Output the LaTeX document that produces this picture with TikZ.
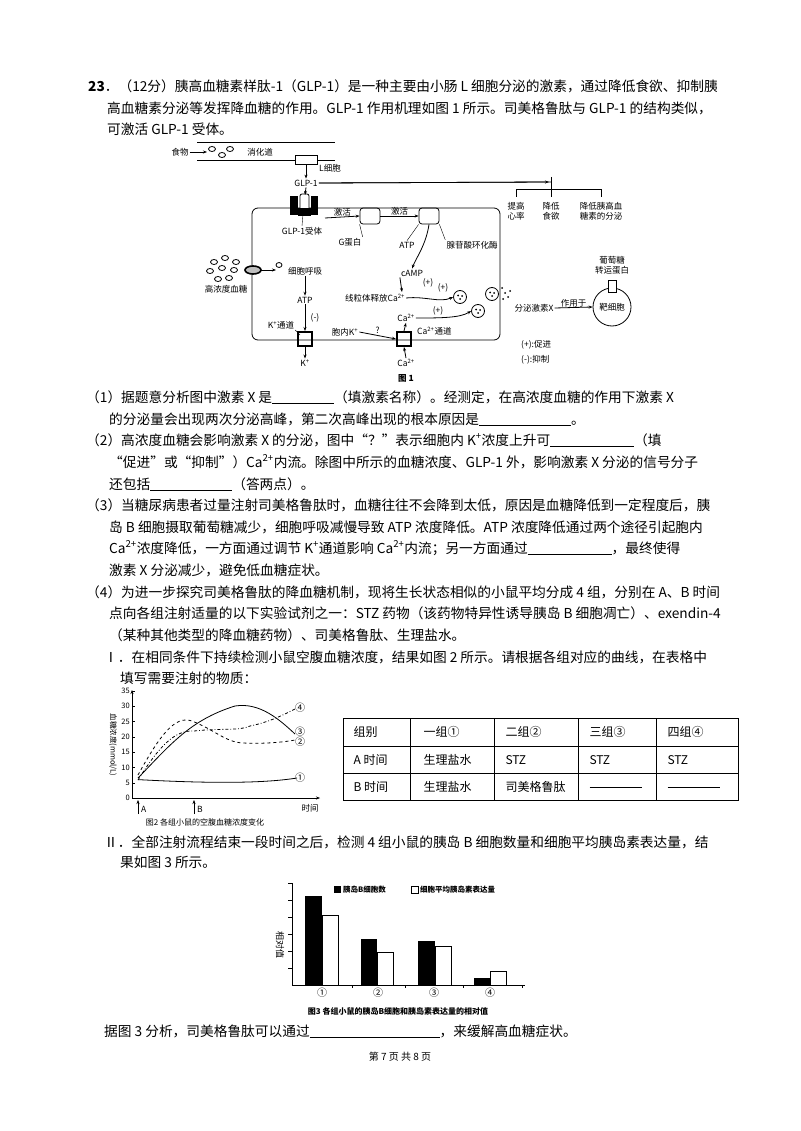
\documentclass[tikz,border=0pt]{standalone}
\usepackage{fontspec}
\setmainfont{Noto Sans CJK SC}
\usetikzlibrary{arrows.meta,shapes.geometric,calc}
\newcommand{\sq}[1]{\textsuperscript{#1}}
\begin{document}
\begin{tikzpicture}[x=1pt,y=-1pt,
  tl/.style={anchor=base west,inner sep=0,font=\fontsize{13.7}{14}\selectfont},
  fs/.style={font=\fontsize{8.5}{10}\selectfont,inner sep=1pt},
  ar/.style={-{Stealth[length=4pt,width=3pt]},thick},
  ln/.style={thick}]
\useasboundingbox (0,0) rectangle (800,1131);
\fill[white] (0,0) rectangle (800,1131);
% ---- text
\node[tl] (t1) at (88,92) {\textbf{23}．（12分）胰高血糖素样肽-1（GLP-1）是一种主要由小肠 L 细胞分泌的激素，通过降低食欲、抑制胰};
\node[tl] (t2) at (107,114) {高血糖素分泌等发挥降血糖的作用。GLP-1 作用机理如图 1 所示。司美格鲁肽与 GLP-1 的结构类似，};
\node[tl] (t3) at (107,135) {可激活 GLP-1 受体。};
\node[tl] (q1) at (86,402) {（1）据题意分析图中激素 X 是\underline{\hspace{62pt}}（填激素名称）。经测定，在高浓度血糖的作用下激素 X};
\node[tl] (q1b) at (109,424) {的分泌量会出现两次分泌高峰，第二次高峰出现的根本原因是\underline{\hspace{92pt}}。};
\node[tl] (q2) at (86,445) {（2）高浓度血糖会影响激素 X 的分泌，图中“？”表示细胞内 K\sq{+}浓度上升可\underline{\hspace{84pt}}（填};
\node[tl] (q2b) at (109,467) {“促进”或“抑制”）Ca\sq{2+}内流。除图中所示的血糖浓度、GLP-1 外，影响激素 X 分泌的信号分子};
\node[tl] (q2c) at (109,489) {还包括\underline{\hspace{82pt}}（答两点）。};
\node[tl] (q3) at (86,510) {（3）当糖尿病患者过量注射司美格鲁肽时，血糖往往不会降到太低，原因是血糖降低到一定程度后，胰};
\node[tl] (q3b) at (109,532) {岛 B 细胞摄取葡萄糖减少，细胞呼吸减慢导致 ATP 浓度降低。ATP 浓度降低通过两个途径引起胞内};
\node[tl] (q3c) at (109,553) {Ca\sq{2+}浓度降低，一方面通过调节 K\sq{+}通道影响 Ca\sq{2+}内流；另一方面通过\underline{\hspace{84pt}}，最终使得};
\node[tl] (q3d) at (109,575) {激素 X 分泌减少，避免低血糖症状。};
\node[tl] (q4) at (86,597) {（4）为进一步探究司美格鲁肽的降血糖机制，现将生长状态相似的小鼠平均分成 4 组，分别在 A、B 时间};
\node[tl] (q4b) at (109,618) {点向各组注射适量的以下实验试剂之一：STZ 药物（该药物特异性诱导胰岛 B 细胞凋亡）、exendin-4};
\node[tl] (q4c) at (109,640) {（某种其他类型的降血糖药物）、司美格鲁肽、生理盐水。};
\node[tl] (p1) at (104,662) {Ⅰ．在相同条件下持续检测小鼠空腹血糖浓度，结果如图 2 所示。请根据各组对应的曲线，在表格中};
\node[tl] (p1b) at (120,683) {填写需要注射的物质：};
\node[tl] (p2) at (104,847) {Ⅱ．全部注射流程结束一段时间之后，检测 4 组小鼠的胰岛 B 细胞数量和细胞平均胰岛素表达量，结};
\node[tl] (p2b) at (120,867) {果如图 3 所示。};
\node[tl] (p3) at (104,1036) {据图 3 分析，司美格鲁肽可以通过\underline{\hspace{130pt}}，来缓解高血糖症状。};
\node[font=\fontsize{10}{12}\selectfont] (pg) at (400,1057) {第 7 页\ 共 8 页};
% ---- table
\draw[thick] (343,718) rectangle (738,800);
\foreach \y in {746,773} \draw (343,\y) -- (738,\y);
\foreach \x in {410,494,578,656} \draw (\x,718) -- (\x,800);
\begin{scope}[every node/.style={anchor=west,font=\fontsize{12}{13}\selectfont}]
\node (c11) at (350,732) {组别}; \node (c12) at (420,732) {一组①}; \node (c13) at (502,732) {二组②}; \node (c14) at (586,732) {三组③}; \node (c15) at (664,732) {四组④};
\node (c21) at (350,760) {A 时间}; \node (c22) at (420,760) {生理盐水}; \node (c23) at (502,760) {STZ}; \node (c24) at (586,760) {STZ}; \node (c25) at (664,760) {STZ};
\node (c31) at (350,787) {B 时间}; \node (c32) at (420,787) {生理盐水}; \node (c33) at (502,787) {司美格鲁肽}; \node (c34) at (586,787) {\underline{\hspace{52pt}}}; \node (c35) at (664,787) {\underline{\hspace{52pt}}};
\end{scope}
% ---- fig 2
\draw[-{Stealth[length=4pt]}] (132,798) -- (132,690);
\draw[-{Stealth[length=4pt]}] (132,798) -- (320,798);
\foreach \v in {0,5,...,35} {\draw (132,{798-3.06*\v}) -- (135,{798-3.06*\v}); \node[fs,anchor=east,font=\fontsize{7.5}{8}\selectfont] at (131,{798-3.06*\v}) {\v};}
\node[fs,rotate=-90,font=\fontsize{7.5}{8}\selectfont] (yl2) at (113,745) {血糖浓度(mmol/L)};
\draw[thick] (138,779.6) .. controls (200,783) and (260,784) .. (297,778);
\draw[thick] (138,778) .. controls (170,745) and (190,720) .. (235,706) .. controls (260,702) and (280,720) .. (295,734);
\draw[thick,dashed] (138,775) .. controls (160,735) and (175,715) .. (192,721) .. controls (215,730) and (225,742) .. (243,743) .. controls (265,744) and (285,742) .. (295,740);
\draw[thick,dash dot] (138,780) .. controls (160,745) and (175,730) .. (194,731) .. controls (220,728) and (240,731) .. (250,726) .. controls (270,722) and (285,714) .. (295,709);
\node[fs,font=\fontsize{10}{10}\selectfont] (l4) at (300,708) {④};
\node[fs,font=\fontsize{10}{10}\selectfont] (l3) at (300,732) {③};
\node[fs,font=\fontsize{10}{10}\selectfont] (l2) at (300,742) {②};
\node[fs,font=\fontsize{10}{10}\selectfont] (l1) at (300,778) {①};
\coordinate (aA) at (138,800); \coordinate (aB) at (194,800);
\draw[ar,thin] ($(aA)+(0,14)$) -- (aA);
\draw[ar,thin] ($(aB)+(0,14)$) -- (aB);
\node[fs,anchor=west] at (140,809) {A};
\node[fs,anchor=west] at (196,809) {B};
\node[fs] (tm) at (310,808) {时间};
\node[fs,font=\fontsize{8}{9}\selectfont] (cap2) at (205,822) {图2 各组小鼠的空腹血糖浓度变化};
% ---- fig 3
\draw (292,883) -- (292,985) -- (525,985);
\foreach \y in {883,900,917,934,951,968} \draw (288,\y) -- (292,\y);
\foreach \x in {352,405,463,522} \draw (\x,985) -- (\x,988);
\foreach \a/\b/\c/\d in {305/896/322/915,361/939/377/952,418/941/435/946,474/978/490/971}{
 \fill[black] (\a,\b) rectangle (\c,985);
 \draw[fill=white] (\c,\d) rectangle ({\c+16},985);}
\foreach \x/\l in {322/①,378/②,434/③,490/④} \node[fs,font=\fontsize{10}{10}\selectfont] at (\x,993) {\l};
\fill (334,886) rectangle (341,893);
\node[fs,anchor=west,font=\fontsize{7.5}{8}\selectfont\bfseries] (lg1) at (342,889.5) {胰岛B细胞数};
\draw (411,886) rectangle (418,893);
\node[fs,anchor=west,font=\fontsize{7.5}{8}\selectfont\bfseries] (lg2) at (419,889.5) {细胞平均胰岛素表达量};
\node[fs,rotate=-90,font=\fontsize{9}{9}\selectfont] (yl3) at (280,945) {相对值};
\node[fs,font=\fontsize{8}{9}\selectfont\bfseries] (cap3) at (398,1011) {图3 各组小鼠的胰岛B细胞和胰岛素表达量的相对值};
% ---- fig 1
\draw[ln] (197,142) -- (335,142);
\draw[ln] (197,160) -- (295,160); \draw[ln] (318,160) -- (335,160);
\node[fs] (food) at (180,152) {食物};
\foreach \p in {(212,149),(222,155),(230,149)} \draw[thick] \p ellipse (3.5pt and 2.5pt);
\draw[ar] (food.east) -- (207,152);
\node[fs] (gut) at (260,152) {消化道};
\node[draw,thick,minimum width=22pt,minimum height=9pt,inner sep=0] (Lc) at (306,160) {};
\node[fs,anchor=west] (Lt) at (318,168) {L细胞};
\node[fs] (glp) at (306,183) {GLP-1};
\draw[ar] (Lc.south) -- (glp.north);
\coordinate (br) at (551,182);
\draw[ln] (glp.east) -- (br);
\draw[ar] (glp.east) -- (549,182);
\draw[ln] (551,177) -- (551,189);
\draw[ln] (516,197) -- (516,189) -- (601,189) -- (601,197);
\draw[ln] (551,189) -- (551,197);
\node[fs,align=center] (e1) at (516,211) {提高\\心率};
\node[fs,align=center] (e2) at (551,211) {降低\\食欲};
\node[fs,align=center] (e3) at (601,211) {降低胰高血\\糖素的分泌};
% cell
\draw[ln,rounded corners=6pt] (252,208) rectangle (500,340);
% receptor
\fill[black] (290,196) rectangle (298,215); \fill[black] (311,196) rectangle (318,215);
\draw[thick,fill=white,rounded corners=2pt] (300,194) rectangle (309,214);
\fill[black] (298,208) rectangle (311,216);
\draw[ar] (glp.south) -- (305,195);
\node[fs] (rec) at (302,231) {GLP-1受体};
\draw (rec.north) -- (303,214);
\node[draw,thick,rounded corners=3pt,minimum width=20pt,minimum height=16pt,inner sep=0] (G) at (370,216) {};
\node[draw,thick,rounded corners=3pt,minimum width=20pt,minimum height=16pt,inner sep=0] (AC) at (429,216) {};
\draw[ar] (325,218) -- node[fs,above=-1pt]{激活} (G.west);
\draw[ar] (G.east) -- node[fs,above=-1pt]{激活} (AC.west);
\node[fs] (Gt) at (350,242) {G蛋白};
\draw (Gt.north east) -- (G.south west);
\node[fs] (atp1) at (407,245) {ATP};
\node[fs] (ACt) at (472,245) {腺苷酸环化酶};
\draw (atp1.north) -- (AC.south west);
\draw (ACt.north west) -- (AC.south east);
\node[fs] (camp) at (412,273) {cAMP};
\draw[ar] (AC.south) .. controls (426,245) and (416,258) .. (camp.north);
\node[fs] (mito) at (375,298) {线粒体释放Ca\sq{2+}};
\draw[ar] (camp.south west) -- (402,292);
\node[fs] at (428,283) {(+)};
\node[draw,thick,circle,minimum size=13pt,inner sep=0] (v1) at (460,297) {};
\node[draw,thick,circle,minimum size=13pt,inner sep=0] (v2) at (478,311) {};
\node[draw,thick,circle,minimum size=13pt,inner sep=0] (v3) at (492,294) {};
\foreach \v in {v1,v2,v3} {\fill ($(\v)+(-2,-1.5)$) circle (1pt); \fill ($(\v)+(2,-1)$) circle (1pt); \fill ($(\v)+(0,2)$) circle (1pt);}
\foreach \p in {(502,288),(505,293),(508,297),(503,299),(510,291)} \fill \p circle (1pt);
\draw[ar] (mito.east) .. controls (425,296) and (440,303) .. (v1.west);
\node[fs] at (443,288) {(+)};
\node[fs] (ca1) at (406,318) {Ca\sq{2+}};
\draw[ar] (ca1.east) .. controls (440,318) and (460,318) .. (v2.west);
\node[fs] at (438,311) {(+)};
\node[fs] (hx) at (534,308) {分泌激素X};
\node[draw,thick,circle,minimum size=38pt,inner sep=0] (tc) at (612,307) {};
\node[fs] (tct) at (612,307) {靶细胞};
\draw[ar] (hx.east) -- node[fs,above=-1pt]{作用于} (tc.west);
\node[draw,thick,fill=white,minimum width=8pt,minimum height=12pt,inner sep=0] (glut) at (612,286) {};
\node[fs,align=center] (glt) at (612,265) {葡萄糖\\转运蛋白};
\node[fs,anchor=west] (lgp) at (520,345) {(+):促进};
\node[fs,anchor=west] (lgm) at (520,360) {(-):抑制};
% left
\foreach \p in {(214,262),(225,258),(236,262),(210,271),(222,268),(234,270),(218,279),(229,278)} \draw[thick] \p ellipse (3.5pt and 2.5pt);
\node[fs] (hg) at (226,289) {高浓度血糖};
\draw[line width=1.6pt,fill=gray!50] (253,270) ellipse (8pt and 4pt);
\draw[ar] (260,270) -- (276,270);
\draw[thick] (279,265) ellipse (3pt and 2.5pt);
\node[fs] (resp) at (305,271) {细胞呼吸};
\node[fs] (atp2) at (305,300) {ATP};
\draw[ar] (resp.south) -- (atp2.north);
\node[fs] at (315,318) {(-)};
\node[trapezium,draw,line width=2pt,shape border rotate=180,minimum width=14pt,minimum height=14pt,inner sep=0,trapezium stretches body] (Kc) at (305,339) {};
\draw[ar] (atp2.south) -- (Kc.north);
\node[fs] (Kt) at (281,325) {K\sq{+}通道};
\draw (Kt.south east) -- (300,335);
\node[fs] (Ko) at (305,363) {K\sq{+}};
\draw[ar] (Kc.south) -- (Ko.north);
\node[fs] (Ki) at (345,332) {胞内K\sq{+}};
\node[trapezium,draw,line width=2pt,shape border rotate=180,minimum width=14pt,minimum height=14pt,inner sep=0,trapezium stretches body] (Cac) at (404,339) {};
\draw[ar] (Ki.east) -- node[fs,above]{?} (Cac.west);
\draw[ar] (Cac.north) -- (ca1.south);
\node[fs] (Cab) at (406,363) {Ca\sq{2+}};
\draw[ar] (Cab.north) -- (Cac.south);
\node[fs,anchor=west] (Cat) at (416,331) {Ca\sq{2+}通道};
\node[fs,font=\fontsize{8.5}{10}\selectfont\bfseries] (f1) at (406,378) {图 1};
\end{tikzpicture}
\end{document}
